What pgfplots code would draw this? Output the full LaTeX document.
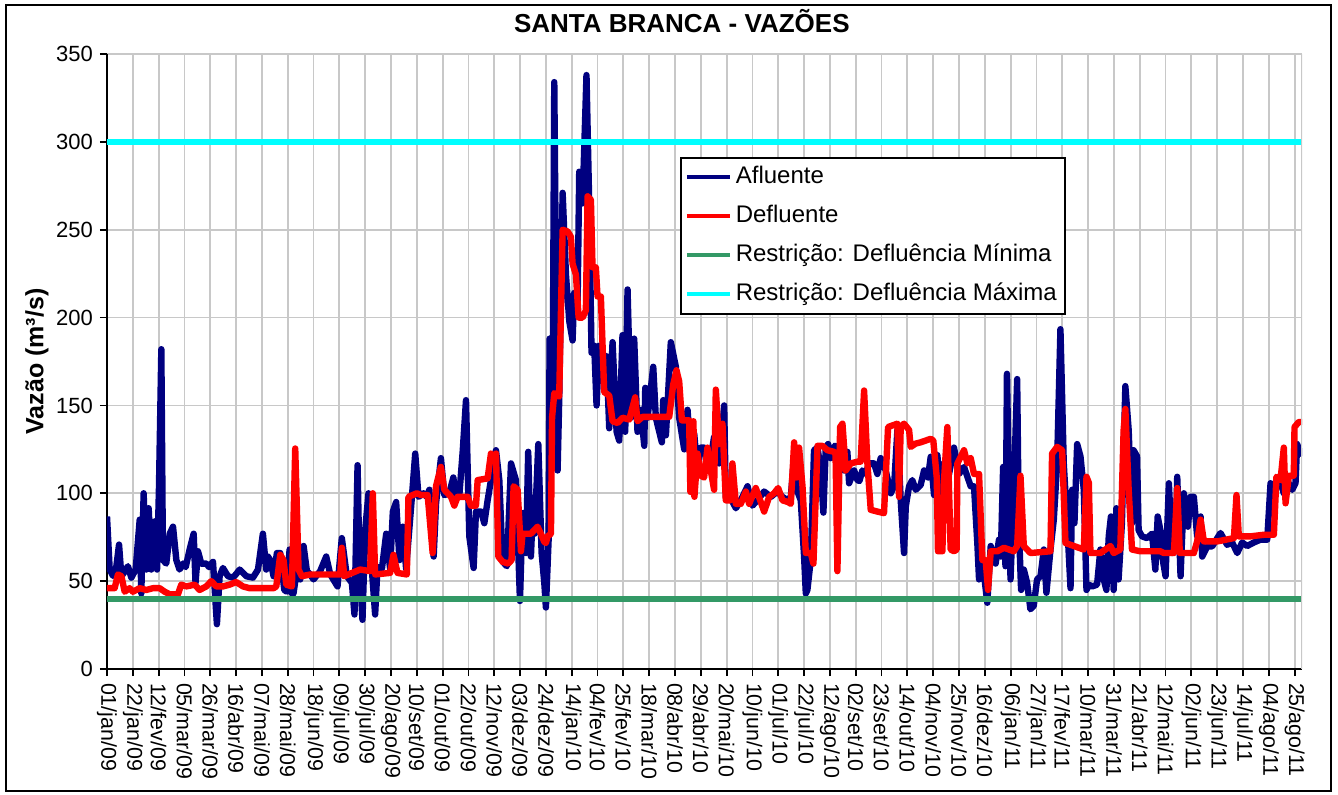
\documentclass[border=0pt]{standalone}
\usepackage{fontspec}
\setmainfont{Liberation Sans}
\usepackage{pgfplots}
\pgfplotsset{compat=1.18}
\definecolor{afl}{RGB}{0,0,128}
\definecolor{defl}{RGB}{255,0,0}
\definecolor{rmin}{RGB}{51,153,102}
\definecolor{rmax}{RGB}{0,255,255}
\definecolor{gridc}{RGB}{200,200,200}
\begin{document}
\begin{tikzpicture}
\useasboundingbox (-53.5pt,-62.5pt) rectangle (615.5pt,334.5pt);
\draw[black, line width=0.9pt] (-50.5pt,-61pt) rectangle (612pt,332pt);
\begin{axis}[
  at={(0pt,0pt)}, anchor=south west,
  scale only axis, width=597.5pt, height=307.5pt,
  xmin=0, xmax=972, ymin=0, ymax=350,
  axis x line*=bottom, axis y line*=left,
  axis line style={line width=0.9pt, -},
  xtick={0,21,...,966},
  xticklabels={01/jan/09,22/jan/09,12/fev/09,05/mar/09,26/mar/09,16/abr/09,07/mai/09,28/mai/09,18/jun/09,09/jul/09,30/jul/09,20/ago/09,10/set/09,01/out/09,22/out/09,12/nov/09,03/dez/09,24/dez/09,14/jan/10,04/fev/10,25/fev/10,18/mar/10,08/abr/10,29/abr/10,20/mai/10,10/jun/10,01/jul/10,22/jul/10,12/ago/10,02/set/10,23/set/10,14/out/10,04/nov/10,25/nov/10,16/dez/10,06/jan/11,27/jan/11,17/fev/11,10/mar/11,31/mar/11,21/abr/11,12/mai/11,02/jun/11,23/jun/11,14/jul/11,04/ago/11,25/ago/11},
  ytick={0,50,...,350},
  /pgf/number format/assume math mode=true,
  tick align=outside, major tick length=3.5pt,
  tick style={black, line width=0.9pt},
  grid=major, major grid style={gridc, line width=0.9pt},
  xticklabel style={font=\fontsize{10.7}{12}\selectfont, rotate=-90, anchor=west},
  yticklabel style={font=\fontsize{11}{13}\selectfont},
  title={SANTA BRANCA - VAZÕES},
  title style={font=\bfseries\fontsize{13}{15}\selectfont, at={(axis description cs:0.481,1.034)}, anchor=center},
  ylabel={Vazão (m³/s)},
  ylabel style={font=\bfseries\fontsize{12.5}{15}\selectfont, at={(axis description cs:-0.0586,0.5)}, anchor=center, rotate=0},
  legend cell align=left,
  legend image code/.code={\draw[#1, line width=2pt] (0pt,0pt) -- (21.5pt,0pt);},
  legend style={at={(0.4795,0.8325)}, anchor=north west, draw=black, line width=0.8pt, fill=white,
    font=\fontsize{12}{14}\selectfont, inner sep=2pt, row sep=4pt,
    nodes={text height=9pt, text depth=2.5pt, inner sep=2pt}},
]
\addplot[afl, line width=3.2pt, line join=round] coordinates {
(0,86.8) (2.2,56.6) (4.9,53) (7,55) (9.8,70.8) (11.7,52.8) (14,55) (17,58.5) (19.8,52) (23.3,56.6) (26.6,85) (27.9,43) (29.8,100) (32,56.6) (33.9,91.5) (36,56.6) (38.8,84) (40.7,56.6) (42.3,104) (44.2,182) (45.5,62) (48.2,60) (51,77) (53.7,81) (56.4,62) (59,56.6) (61.8,60) (64,58) (67.2,68) (70.5,77) (72,49) (74,67) (76.7,60) (80.8,60) (83,58) (86.2,61) (89.4,25.5) (91.6,52.8) (94.3,57.5) (98.4,52.8) (102.4,52) (105,54) (107.9,56.6) (113.3,52.8) (118.7,52) (122.8,56.6) (126.8,77) (129.5,56.6) (130.9,64) (132.8,62) (135.5,52.8) (138.2,66) (140.9,66) (144.2,45) (146.3,44) (148.5,68) (150.4,43) (151.7,43) (154.5,56.6) (157.2,51) (159.9,70) (162.6,55.7) (165,54) (168,51) (173.4,55.7) (178.3,64) (181.6,53.8) (187.5,47) (191,74.5) (195.1,52.8) (199.2,49) (201.3,31) (203.8,116) (205.4,57) (207.8,28) (210,79) (212.7,100) (215.4,57) (218.1,31) (220,58) (223.6,57) (227.1,77) (230.3,57) (232.5,89.6) (235.2,95) (237.9,62) (240.6,81) (243.3,57) (248,98) (250.7,122.6) (253.4,98) (257.4,100) (260.1,98) (262.2,102) (265.7,64) (267.6,94) (271.6,120) (274.4,99) (278.4,100) (281.7,109) (283.8,98) (286.6,99) (289.3,123.6) (292,153) (294.7,75.5) (298.2,57.5) (300.1,89.6) (304.2,89.6) (306.9,83) (309.6,96) (312.3,107.5) (316.4,124.5) (319.1,107.5) (321.8,61) (325.3,58.5) (328.6,117) (332.6,107.5) (335.9,38.7) (338,88.7) (340.8,66) (342.6,123.6) (344.8,64) (346.5,93) (347.8,77) (350.8,128) (353.5,66) (355.7,49) (357,35) (359.2,73.6) (360,188) (361,143) (362.5,160) (363.8,334) (366.5,113) (367.8,153) (370.6,271) (373.3,224.5) (376,198) (378.7,187) (380,214) (382.7,204) (384.1,283) (386.8,265) (390,338) (392.2,265) (394.1,180) (396.3,184) (398.2,150) (400.4,184) (403,164) (406.3,178) (408.5,137) (411.2,186) (414.5,135) (416.6,130) (419.3,190) (421.5,135) (423.4,216) (426.1,143) (428.8,188) (431.5,135) (434.2,147.5) (437,127) (437.8,160) (439.7,143) (444.3,172) (446.4,143) (451.3,129) (452.4,153) (454.6,133) (458.6,186) (462.7,172) (465.4,143) (469.5,125) (472.2,147.5) (474.9,121) (477.6,134) (480.3,113) (483,126) (485.7,126) (489.8,115) (493.8,132) (497.9,117) (502,150) (503.3,98) (507.4,97) (511.5,91.5) (515.5,96) (521,104) (525,93) (529,96) (534.5,101) (540,98) (545.3,101) (549.4,98) (553.5,96) (556.2,98) (558.9,121) (561.6,101) (564.3,96) (567,64) (568.4,43) (569.7,45) (572.4,62) (575.1,124.5) (577.9,126) (580.6,113) (582.7,89) (584.6,126) (586.5,128) (588.7,120) (592,127) (595.5,126) (599.5,113) (602.2,123.6) (603.6,105.7) (607.7,113) (610.4,107.5) (612,107) (614.4,113) (617.1,111) (619.8,117) (623.9,117) (626.6,111) (629.3,120) (633.4,113) (637.5,100) (640.2,104) (642.9,136) (645.6,96) (648.3,66) (649.7,92.5) (652.4,104) (655,107.5) (657.8,102) (661.8,104.7) (664.6,113) (667.8,109) (670,120.8) (672.7,99) (675.4,121.7) (678.1,98) (680.8,117) (684.9,111) (688.9,126) (693,111) (697.1,115) (702.5,104) (705.2,104) (707.9,71.7) (709.3,51) (712,62) (716,37.7) (718.8,70) (722.8,60) (725.5,73.6) (727,64) (728.9,115) (730.8,58.5) (732,168) (734.9,51) (737.6,102) (740.3,165) (741.6,83) (743.5,45) (745.7,56.6) (748.4,49) (751.1,34) (753.8,36) (756.5,51) (759.3,52.8) (762,68) (764.1,43.4) (767.4,68) (770.1,85) (772.8,117) (775.5,193.4) (778.2,117) (781,83) (783.7,46) (785,102) (786.9,83) (789.1,128) (791.8,121) (794.5,102) (796.7,45) (798.6,48) (801.3,47) (805.3,48) (808,68) (810.7,51) (812.9,45) (814.8,75.5) (816.6,86.8) (818.8,45) (821,91.5) (822.8,51) (825.5,83) (828.3,161) (831,136) (833.7,83) (835,124.5) (837.8,121) (839.1,79) (841.8,75.5) (845.9,74.5) (850,77) (852.7,56.6) (854.6,86.8) (856.8,79) (858.3,64) (861,52.8) (863.7,105.7) (866.4,66) (869.1,69.8) (870.5,109.4) (873.2,52.8) (875.9,100) (879.2,81) (881.3,98) (884,98) (886.7,75.5) (889.5,86.8) (890.8,64) (894.9,69.8) (898.9,69.8) (905.7,77.4) (911.1,70.7) (915.2,72) (919.3,66) (923.3,72) (927.4,70) (932.8,72) (938.2,73.6) (943.7,73.6) (946.4,105.7) (949.1,102) (953.1,109.4) (957.2,100) (959.9,107.5) (964,102) (966.7,105.7) (968,128) (970.8,122.6) (972,124)
};
\addlegendentry{Afluente}
\addplot[defl, line width=3.2pt, line join=round] coordinates {
(0,46) (6.2,46) (8.9,53.8) (11.7,52.8) (14.4,44) (18.4,46) (21.1,44) (26.6,46) (32,45) (37.4,46) (42.8,46) (46.9,44) (51,42.5) (57.7,42.5) (60.4,48) (64.5,47) (71.3,48) (75.3,45) (80.8,47) (84.8,50) (88.9,47) (94.3,47) (99.7,48) (105.1,49.5) (110.6,47) (116,46) (125,46) (135.5,46) (137.7,47) (140.9,65) (143.6,62) (145.8,48) (150.4,47) (153.1,125.5) (155.8,56.6) (158.5,52.8) (165.3,53.8) (178.8,53.8) (189.7,53.8) (191,69) (192.9,52.8) (205.9,56.6) (214,55.7) (216.2,100) (218.1,53.8) (230.3,54.7) (233,65) (236.3,54.7) (243.9,53.8) (245.2,98) (252,100) (255.4,99) (260.8,99) (264.9,66) (267.6,104) (271.6,115) (274.4,102) (279.8,98) (282.5,93) (285.2,98) (293.3,98) (296,93) (300.1,93) (301.5,107.5) (309.6,108.5) (312.3,122.6) (315,120) (316.4,122.6) (318.3,64) (321.8,61) (326.4,60) (329.1,62) (330.7,104) (334,102) (336.7,67) (338,77) (344.8,77) (350.2,81) (352.9,77) (355.6,72.5) (357,71.7) (358.4,75.5) (361.1,77) (362,143) (363.8,157) (367.8,155) (370.6,250) (374.6,249) (377.3,246) (378.7,230.6) (381.4,224.5) (383.6,200) (386.8,200) (389.5,204) (390.9,269) (393.6,267) (394.9,228.6) (397.6,228.6) (399,212) (401.7,212) (404.4,157.6) (408.5,155.6) (411.2,141) (415.3,140) (419.3,143) (424.8,142) (429.6,154.6) (431.5,141) (435.6,143.5) (446.4,143.5) (457.3,143.5) (460.5,161.7) (463.2,170) (465.4,163.7) (467.6,141.5) (473.5,141.5) (474.5,100.8) (476.2,128) (477,141) (477.8,98) (480.3,122.6) (483,110) (485.7,109) (488.4,126) (491.1,113) (493.8,102) (495.2,159) (497.9,128) (500.6,139.6) (503.3,96) (506.8,96) (508.7,117) (511.5,94) (515.5,94) (519.6,101) (522.3,94) (527.7,103) (531.8,95) (534.5,89.6) (538.6,98) (542.6,100) (545.9,103) (549.4,96) (554,95) (556.2,94) (558.9,129) (561,109) (562.9,126) (565.7,104) (568.4,66) (572.4,66) (574.6,60) (577.9,127) (581.9,127) (586,124.5) (591.4,123.6) (592.6,122) (594.1,55.7) (596.3,137.7) (598.2,139.6) (600.9,113) (605,117) (610.4,118) (613,118) (615.8,158.5) (618.5,117) (621.2,90.6) (626.6,89.6) (632,88.7) (635.3,137.7) (638.8,138.6) (642.9,139.6) (644.2,98) (645.6,138) (648.3,139.6) (652.4,136) (653.7,126.4) (657.8,128.3) (661.8,129) (670,131) (672.1,130) (674.9,109) (675.9,67) (679.5,67) (680.8,107) (683.5,137.7) (686.2,68) (688.9,67) (691.1,68) (691.7,117) (697.1,124.5) (699.8,117) (702.5,120) (705.2,111) (709.3,111) (712,62) (714.7,62) (716.6,45) (718.8,67) (724.2,67) (729.6,69) (737.6,67) (740.3,70) (743,110) (745.7,70) (751.1,66) (767.4,67) (768.7,122.6) (772.8,126.4) (776.9,124.5) (779.6,71.7) (786.4,70) (794.5,68) (796.7,109.4) (798.6,106) (799.9,66) (808,66) (816.2,70) (818.8,66) (824.2,68) (826.9,136) (828.3,148) (831,102) (833.7,68) (840.5,67) (856.8,67) (859.6,66) (867.8,66) (870.5,103) (872.6,66) (884,66) (886.7,72.6) (889.5,85) (892.2,72.6) (903,72.6) (916.6,74.5) (918.7,99) (920.6,75.5) (930.1,75.5) (941,76.4) (949.1,76.4) (951.2,109.4) (954.5,107.5) (957.2,126) (958.6,94.3) (961.3,110) (965.3,110) (965.9,137.7) (969.4,140.6) (972,140.6)
};
\addlegendentry{Defluente}
\addplot[rmin, line width=3.2pt] coordinates {(0,40) (972,40)};
\addlegendentry{Restrição: Defluência Mínima}
\addplot[rmax, line width=3.2pt] coordinates {(0,300) (972,300)};
\addlegendentry{Restrição: Defluência Máxima}
\draw[gridc, line width=0.9pt] (rel axis cs:1,0) -- (rel axis cs:1,1);
\end{axis}
\end{tikzpicture}
\end{document}
